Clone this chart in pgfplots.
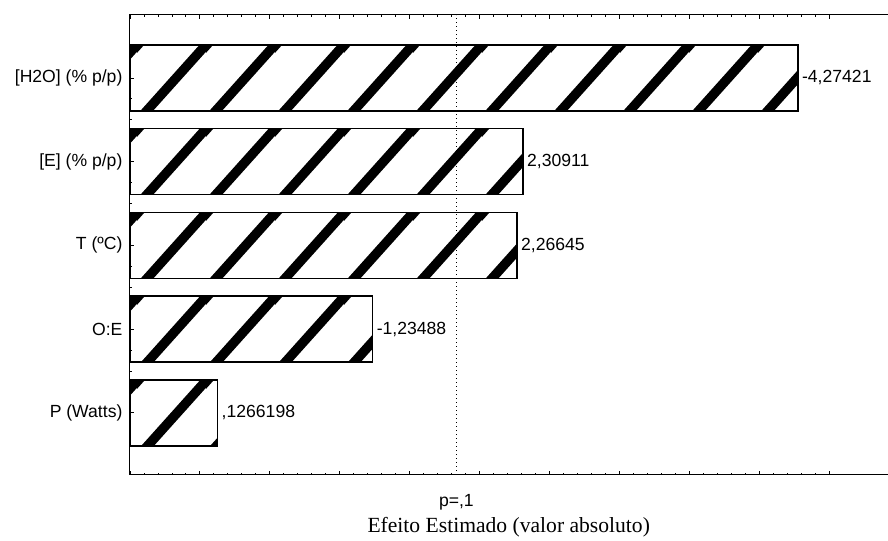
\documentclass[border=0pt]{standalone}
\usepackage{pgfplots}
\pgfplotsset{compat=1.18}
\usepackage{pgfplotstable}
\usepackage{fontspec}
\setmainfont{Liberation Sans}
\newfontfamily\seriffont{Liberation Serif}
\usetikzlibrary{patterns}

% diagonal hatch: tile 68.5pt wide, one bar spacing (83.75pt) high
\pgfdeclarepatternformonly{hatch}{\pgfpointorigin}{\pgfqpoint{68.5pt}{83.75pt}}{\pgfqpoint{68.5pt}{83.75pt}}{%
  \pgfsetlinewidth{9.5pt}%
  \pgfpathmoveto{\pgfqpoint{-77.04pt}{-10.145pt}}\pgfpathlineto{\pgfqpoint{16.64pt}{93.895pt}}%
  \pgfpathmoveto{\pgfqpoint{-8.54pt}{-10.145pt}}\pgfpathlineto{\pgfqpoint{85.14pt}{93.895pt}}%
  \pgfpathmoveto{\pgfqpoint{59.96pt}{-10.145pt}}\pgfpathlineto{\pgfqpoint{153.64pt}{93.895pt}}%
  \pgfusepath{stroke}%
}

% y = category position, v = |effect|, lab = printed value
\pgfplotstableread{
y v lab
0 0.1266198 {,1266198}
1 1.23488 {-1,23488}
2 2.26645 {2,26645}
3 2.30911 {2,30911}
4 4.27421 {-4,27421}
}\effects
\newcommand\plabel{p=,1}
\newcommand\lfont{\fontsize{17.6}{20}\selectfont}

\begin{document}
\begin{tikzpicture}
\begin{axis}[
  name=ax,
  scale only axis, width=758pt, height=460pt,
  xmin=0, xmax=5.414, ymin=-0.74, ymax=4.752,
  axis on top,
  axis line style={draw=none},
  tick align=inside,
  xtick={0,0.5,...,5.0}, xticklabels={},
  minor x tick num=4,
  xtick pos=both, ytick pos=left,
  ytick={0,1,2,3,4},
  yticklabels={{P (Watts)},{O:E},{T (ºC)},{[E] (\% p/p)},{[H2O] (\% p/p)}},
  minor y tick num=3,
  major tick length=4pt, minor tick length=2pt,
  every tick/.style={black, line width=0.8pt},
  yticklabel style={font=\lfont, xshift=-4pt},
  extra x ticks={2.3331}, extra x tick labels={\plabel},
  extra x tick style={major tick length=0pt, grid=major,
     major grid style={black, line width=1.1pt, dash pattern=on 1.2pt off 2.8pt},
     xticklabel style={font=\lfont, anchor=base, yshift=-32pt}},
  xlabel={\seriffont Efeito Estimado (valor absoluto)},
  xlabel style={font=\fontsize{21.6}{24}\selectfont, at={(axis description cs:0.5,0)}, anchor=base, yshift=-58pt},
  clip=false,
]
\addplot[xbar, bar width=66pt, bar shift=0pt, draw=black, line width=1.6pt, fill=white,
  postaction={pattern=hatch, pattern color=black},
  nodes near coords, point meta=explicit symbolic,
  nodes near coords style={anchor=west, font=\lfont, black}]
  table[x expr=\thisrow{v}+0.5, y=y, meta=lab]{\effects};
\draw[black, line width=1pt] (rel axis cs:1,1) -- (rel axis cs:0,1) -- (rel axis cs:0,0) -- (rel axis cs:1,0);
\end{axis}
\path ([xshift=-130pt,yshift=-63pt]ax.south west) rectangle ([yshift=15pt]ax.north east);
\end{tikzpicture}
\end{document}
